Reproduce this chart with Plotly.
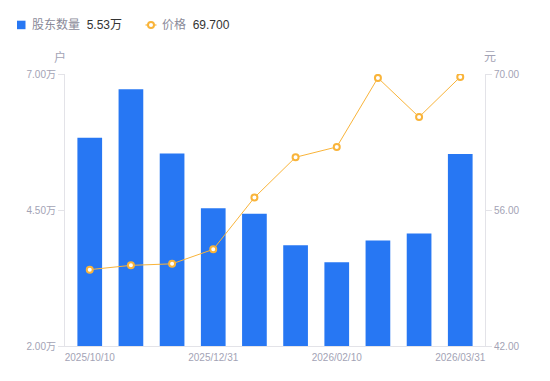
import plotly.graph_objects as go

dates = ["2025/10/10", "2025/10/31", "2025/11/30", "2025/12/31", "2026/01/09",
         "2026/01/20", "2026/02/10", "2026/02/28", "2026/03/10", "2026/03/31"]
holders = [5.83, 6.72, 5.54, 4.53, 4.43, 3.85, 3.54, 3.94, 4.07, 5.53]  # 万户
price = [49.86, 50.30, 50.46, 51.95, 57.28, 61.43, 62.49, 69.60, 65.57, 69.70]
xtick_labels = ["2025/10/10", "2025/12/31", "2026/02/10", "2026/03/31"]
left_ticks = [2.0, 4.5, 7.0]
left_tick_text = ["2.00万", "4.50万", "7.00万"]
right_ticks = [42, 56, 70]
right_tick_text = ["42.00", "56.00", "70.00"]
legend_names = ["股东数量", "价格"]
legend_values = ["5.53万", "69.700"]

BLUE = "#2777F3"
ORANGE = "#F9B43A"
GRAY = "#A3A3B5"
AXIS = "#E3E3E8"
FONT = "'Liberation Sans', Arial, 'Noto Sans CJK SC', sans-serif"

# page has an 8px body margin; figure is sized so it ends at the window edge
OFF = 8
W, H = 550 - OFF, 381 - OFF
L, R, T, B = 65 - OFF, 65, 74 - OFF, 35

def pp_x(px):
    return (px - OFF - L) / (W - L - R)

def pp_y(py):
    return (H - B - (py - OFF)) / (H - T - B)

fig = go.Figure()
fig.add_trace(go.Bar(
    x=dates, y=holders, name=legend_names[0],
    marker=dict(color=BLUE, line=dict(width=0)), yaxis="y", showlegend=False))
fig.add_trace(go.Scatter(
    x=dates, y=price, name=legend_names[1],
    mode="lines+markers", yaxis="y2", showlegend=False,
    line=dict(color=ORANGE, width=1),
    marker=dict(symbol="circle", size=6, color="white", line=dict(color=ORANGE, width=2))))

shapes = [
    dict(type="rect", xref="paper", yref="paper",
         x0=pp_x(17), x1=pp_x(25.5), y0=pp_y(29.2), y1=pp_y(20.7),
         fillcolor=BLUE, line=dict(width=0)),
    dict(type="line", xref="paper", yref="paper",
         x0=pp_x(145.5), x1=pp_x(156.5), y0=pp_y(25), y1=pp_y(25),
         line=dict(color=ORANGE, width=1.2)),
    dict(type="circle", xref="paper", yref="paper",
         x0=pp_x(148), x1=pp_x(154), y0=pp_y(28), y1=pp_y(22),
         fillcolor="white", line=dict(color=ORANGE, width=2)),
]

annotations = [
    dict(text="户", xref="paper", yref="paper", x=pp_x(60), y=pp_y(57),
         xanchor="center", yanchor="middle", showarrow=False,
         font=dict(size=12, color=GRAY)),
    dict(text="元", xref="paper", yref="paper", x=pp_x(490), y=pp_y(57),
         xanchor="center", yanchor="middle", showarrow=False,
         font=dict(size=12, color=GRAY)),
    dict(text=f"<span style='color:#8A8A99'>{legend_names[0]}</span>  {legend_values[0]}",
         xref="paper", yref="paper", x=pp_x(30), y=pp_y(25),
         xanchor="left", yanchor="middle", showarrow=False,
         font=dict(size=12, color="#333333")),
    dict(text=f"<span style='color:#8A8A99'>{legend_names[1]}</span>  {legend_values[1]}",
         xref="paper", yref="paper", x=pp_x(160), y=pp_y(25),
         xanchor="left", yanchor="middle", showarrow=False,
         font=dict(size=12, color="#333333")),
]

fig.update_layout(
    template="none",
    width=W, height=H,
    margin=dict(l=L, r=R, t=T, b=B, pad=0),
    paper_bgcolor="white", plot_bgcolor="white",
    font=dict(family=FONT, size=10, color=GRAY),
    bargap=0.4,
    showlegend=False,
    xaxis=dict(type="category", tickmode="array", tickvals=xtick_labels,
               ticktext=xtick_labels, showline=True, linecolor=AXIS, linewidth=1,
               ticks="", showgrid=False, automargin=False, ticklabelstandoff=2,
               tickfont=dict(size=10, color=GRAY)),
    yaxis=dict(range=[2.0, 7.0], tickvals=left_ticks, ticktext=left_tick_text,
               showline=True, linecolor=AXIS, linewidth=1, ticks="outside", ticklen=6,
               tickcolor=AXIS, tickwidth=1, showgrid=False, zeroline=False,
               automargin=False, tickfont=dict(size=10, color=GRAY)),
    yaxis2=dict(range=[42, 70], tickvals=right_ticks, ticktext=right_tick_text,
                overlaying="y", side="right", showline=True, linecolor=AXIS, linewidth=1,
                ticks="outside", ticklen=6, tickcolor=AXIS, tickwidth=1, showgrid=False,
                zeroline=False, automargin=False, tickfont=dict(size=10, color=GRAY)),
    shapes=shapes,
    annotations=annotations,
)

fig.write_html("out.html")
